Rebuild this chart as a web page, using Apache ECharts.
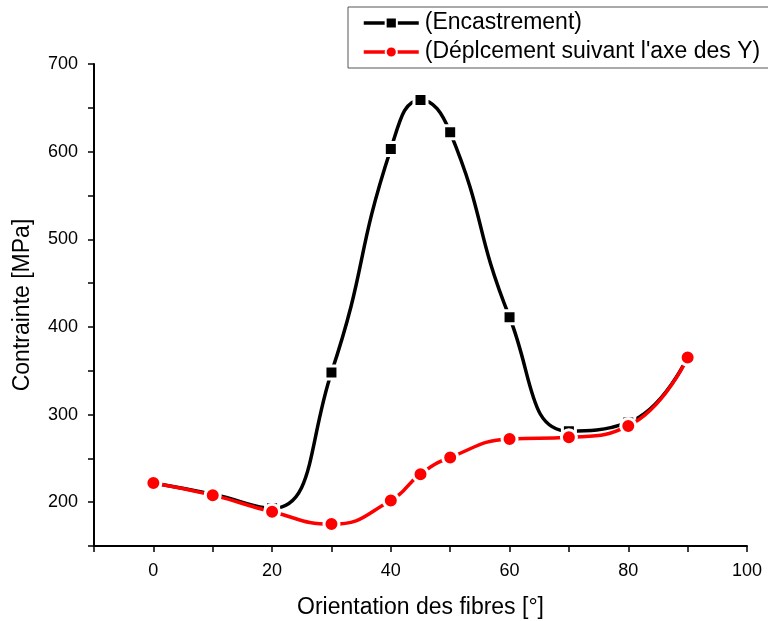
<!DOCTYPE html>
<html><head><meta charset="utf-8">
<script src="https://cdn.jsdelivr.net/npm/echarts@6/dist/echarts.min.js"></script>
<style>html,body{margin:0;padding:0;background:#fff}#c{width:768px;height:621px}</style>
</head><body><div id="c"></div>
<script>
var orientations = [0, 10, 20, 30, 40, 45, 50, 60, 70, 80, 90];
var encastrement = [222, 209, 193, 348, 603, 659, 622, 411, 281, 291, 366];
var deplacementY = [222, 208, 189, 175, 202, 232, 251, 272, 274, 287, 365];
var seriesNames = ['(Encastrement)', "(Déplcement suivant l'axe des Y)"];
var xTitle = 'Orientation des fibres [°]';
var yTitle = 'Contrainte [MPa]';

function pairs(xs, ys){ return xs.map(function(x,i){return [x, ys[i]];}); }
var font = 'Liberation Sans, Arial, sans-serif';
var chart = echarts.init(document.getElementById('c'), null, {renderer:'canvas'});
chart.setOption({
  animation:false,
  backgroundColor:'#fff',
  grid:{left:94, top:64, right:21, bottom:75, containLabel:false, outerBoundsMode:'none'},
  legend:{
    orient:'vertical', left:348, top:7,
    borderColor:'#555', borderWidth:1, backgroundColor:'#fff',
    padding:[3, 30, 3, 14], itemGap:3, itemWidth:55, itemHeight:14,
    lineStyle:{width:3.5},
    textStyle:{fontFamily:font, fontSize:23, lineHeight:26, color:'#000', padding:[0,0,0,1]},
    data:seriesNames
  },
  xAxis:{
    type:'value', min:-10, max:100, interval:10,
    name:xTitle, nameLocation:'middle', nameGap:50,
    nameTextStyle:{fontFamily:font, fontSize:23, color:'#000'},
    axisLine:{onZero:false, lineStyle:{color:'#000', width:2}},
    axisTick:{show:true, length:6, inside:false, lineStyle:{color:'#000', width:1.5}},
    axisLabel:{fontFamily:font, fontSize:18, color:'#000', margin:16,
      formatter:function(v){ return (v % 20 === 0) ? String(v) : ''; }},
    splitLine:{show:false}
  },
  yAxis:{
    type:'value', min:150, max:700, interval:50,
    name:yTitle, nameLocation:'middle', nameGap:60, nameRotate:90,
    nameTextStyle:{fontFamily:font, fontSize:23, color:'#000'},
    axisLine:{onZero:false, lineStyle:{color:'#000', width:2}},
    axisTick:{show:true, length:6, inside:false, lineStyle:{color:'#000', width:1.5}},
    axisLabel:{fontFamily:font, fontSize:18, color:'#000', margin:16,
      formatter:function(v){ return (v % 100 === 0) ? String(v) : ''; }},
    splitLine:{show:false}
  },
  series:[
    {name:seriesNames[0], type:'line', data:pairs(orientations, encastrement),
     smooth:0.5, symbol:'rect', symbolSize:13,
     itemStyle:{color:'#000', borderColor:'#fff', borderWidth:3},
     lineStyle:{color:'#000', width:3.5}, z:2},
    {name:seriesNames[1], type:'line', data:pairs(orientations, deplacementY),
     smooth:0.5, symbol:'circle', symbolSize:15,
     itemStyle:{color:'#ff0000', borderColor:'#fff', borderWidth:3},
     lineStyle:{color:'#ff0000', width:3.5}, z:3}
  ]
});
</script></body></html>
